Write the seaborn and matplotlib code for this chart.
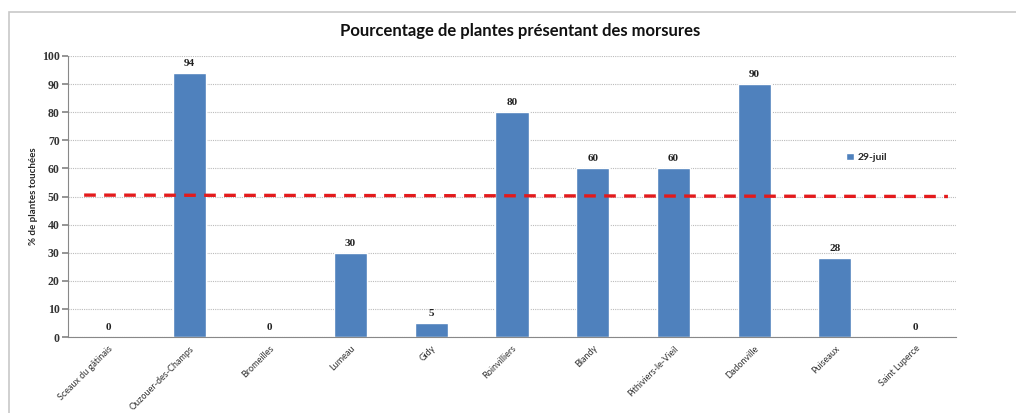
import numpy as np
import pandas as pd
import matplotlib
matplotlib.use("Agg")
import matplotlib.pyplot as plt
import seaborn as sns
from matplotlib.patches import Rectangle

communes = ["Sceaux du gâtinais", "Ouzouer-des-Champs", "Bromeilles", "Lumeau", "Gidy",
            "Roinvilliers", "Blandy", "Pithiviers-le-Vieil", "Dadonville", "Puiseaux",
            "Saint Luperce"]
pct_29_juil = [0, 94, 0, 30, 5, 80, 60, 60, 90, 28, 0]
seuil_x = [-0.3, 10.4]
seuil_y = [50.5, 50.0]
yticks = list(range(0, 101, 10))

df = pd.DataFrame({"commune": communes, "pct": pct_29_juil})

sns.set_theme(style="white")
plt.rcParams['font.family'] = ['Lato', 'DejaVu Sans']

fig = plt.figure(figsize=(10.16, 4.13), dpi=100)
# outer chart border
fig.patches.append(Rectangle((9 / 1016, -0.01), 1.02, 1 - 12 / 413 + 0.01, transform=fig.transFigure,
                             fill=False, edgecolor="#c8c8c8", linewidth=1.2))
ax = fig.add_axes([68 / 1016, 1 - 337 / 413, (956 - 68) / 1016, (337 - 56) / 413])

sns.barplot(data=df, x="commune", y="pct", color="#4F81BD", width=0.41, ax=ax,
            label="29-juil", saturation=1)

serif = ['Liberation Serif', 'DejaVu Serif']
for i, v in enumerate(pct_29_juil):
    ax.text(i, v + 1.8, str(v), ha="center", va="bottom", fontsize=8, fontweight="bold",
            family=serif, color="#222222")

ax.plot(seuil_x, seuil_y, color="#e31a1c", linestyle=(0, (3.5, 2.5)), linewidth=2.4, zorder=3)

ax.set_ylim(0, 100)
ax.set_xlim(-0.5, len(communes) - 0.5)
ax.set_yticks(yticks)
ax.set_yticklabels([str(t) for t in yticks], family=serif, fontweight="bold", fontsize=8.5,
                   color="#333333")
ax.yaxis.grid(True, color="#bbbbbb", linestyle=(0, (1, 1)), linewidth=0.8)
ax.set_axisbelow(True)
ax.set_xticks(range(len(communes)))
ax.set_xticklabels(communes, rotation=45, ha="right", rotation_mode="anchor", fontsize=6.5,
                   color="#333333")
ax.tick_params(axis="y", length=4, color="#888888", left=True, pad=2)
ax.tick_params(axis="x", length=0, pad=5)
for s in ["top", "right"]:
    ax.spines[s].set_visible(False)
for s in ["left", "bottom"]:
    ax.spines[s].set_color("#888888")
    ax.spines[s].set_linewidth(0.8)

ax.set_xlabel("")
ax.set_ylabel("% de plantes touchées", fontsize=7, fontweight="bold", labelpad=3)
fig.text(520 / 1016, 1 - 31 / 413, "Pourcentage de plantes présentant des morsures",
         ha="center", va="center", fontsize=12, fontweight="bold", color="#111111")

leg = ax.legend(loc="center left", bbox_to_anchor=(0.866, 0.64), frameon=False, fontsize=7.5,
                handlelength=0.7, handleheight=0.7, handletextpad=0.4)
for t in leg.get_texts():
    t.set_fontweight("bold")

fig.savefig("out.png", dpi=100)
